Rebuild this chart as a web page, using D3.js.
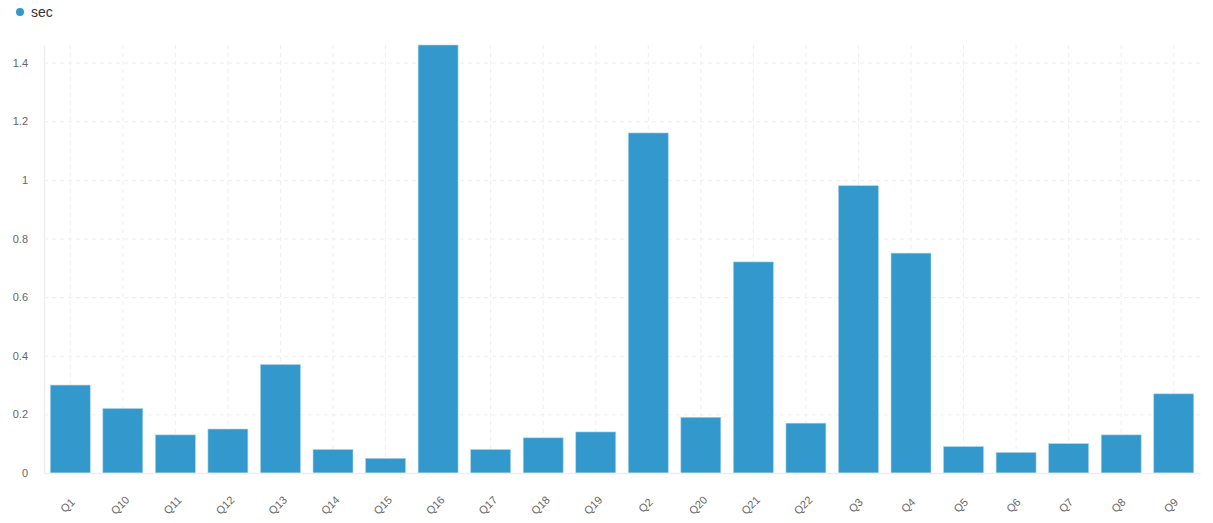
<!DOCTYPE html>
<meta charset="utf-8">
<script src="https://d3js.org/d3.v7.min.js"></script>
<style>
  body { margin: 0; font-family: Arial, "Liberation Sans", sans-serif; background: #fff; }
  .tick text { fill: #666; font-size: 11px; }
  .grid line { stroke: #eee; stroke-dasharray: 4 4; }
  .grid path { display: none; }
</style>
<div id="chart"></div>
<script>
// categories and values
var categories = ["Q1","Q10","Q11","Q12","Q13","Q14","Q15","Q16","Q17","Q18","Q19","Q2","Q20","Q21","Q22","Q3","Q4","Q5","Q6","Q7","Q8","Q9"];
var seconds = [0.30,0.22,0.13,0.15,0.37,0.08,0.05,1.46,0.08,0.12,0.14,1.16,0.19,0.72,0.17,0.98,0.75,0.09,0.07,0.10,0.13,0.27];
var yTicks = [0, 0.2, 0.4, 0.6, 0.8, 1, 1.2, 1.4];
var seriesName = "sec";
var color = "#3398cc";

var W = 1213, H = 523;
var margin = {top: 45, right: 13, bottom: 50, left: 44},
    width = W - margin.left - margin.right,
    height = H - margin.top - margin.bottom;

var svg = d3.select("#chart").append("svg")
    .attr("width", W).attr("height", H);

var g = svg.append("g")
    .attr("transform", "translate(" + margin.left + "," + margin.top + ")");

var x = d3.scaleBand().domain(categories).range([0, width]).paddingInner(0.24).paddingOuter(0.12);
var y = d3.scaleLinear().domain([0, d3.max(seconds)]).range([height, 0]);

// grid lines
g.append("g").attr("class", "grid")
  .call(d3.axisLeft(y).tickValues(yTicks.slice(1)).tickSize(-width).tickFormat(""));
g.append("g").attr("class", "grid")
  .call(d3.axisBottom(x).tickSize(height).tickFormat(""));

// bars
g.selectAll("rect.bar")
  .data(seconds)
  .enter().append("rect")
    .attr("class", "bar")
    .attr("x", function(d, i) { return x(categories[i]); })
    .attr("y", function(d) { return y(d); })
    .attr("width", x.bandwidth())
    .attr("height", function(d) { return height - y(d); })
    .attr("fill", color)
    .attr("stroke", "#a9d3ea")
    .attr("stroke-width", 0.6);

// axes
var yAxis = g.append("g")
  .call(d3.axisLeft(y).tickValues(yTicks).tickSize(0).tickPadding(16).tickFormat(function(d) { return d3.format("")(d); }));
yAxis.select(".domain").attr("stroke", "#eee").attr("stroke-width", 1.5);

var xAxis = g.append("g")
  .attr("transform", "translate(0," + height + ")")
  .call(d3.axisBottom(x).tickSize(0).tickPadding(0));
xAxis.select(".domain").attr("stroke", "#eee").attr("stroke-width", 1.5);
xAxis.selectAll(".tick text")
  .attr("text-anchor", "middle")
  .attr("dy", null)
  .attr("transform", "translate(0,35) rotate(-45)")
  .attr("font-size", "10px");

// legend
var legend = svg.append("g").attr("transform", "translate(20,12)");
legend.append("circle").attr("r", 4).attr("fill", color);
legend.append("text").attr("x", 11).attr("y", 5)
  .attr("font-size", "14px").attr("fill", "#333").text(seriesName);
</script>
